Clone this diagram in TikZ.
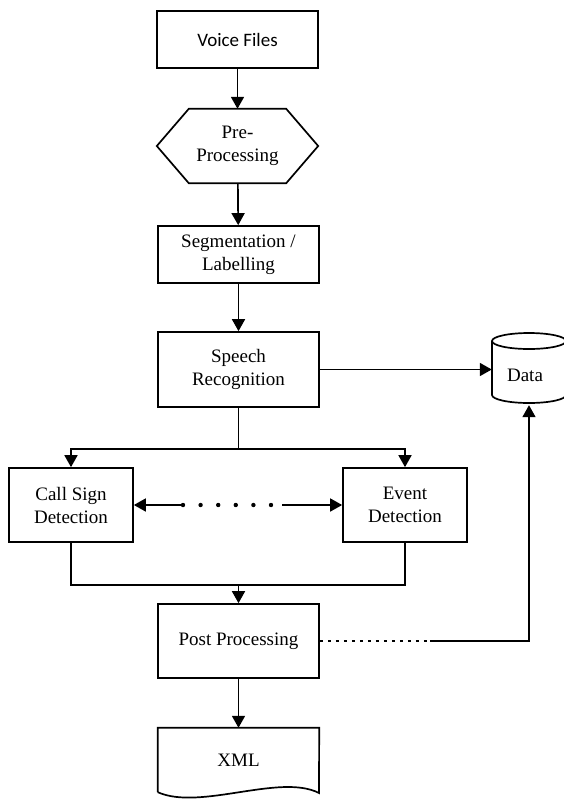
\documentclass[tikz,border=0pt]{standalone}
\usepackage{fontspec}
\setmainfont{Liberation Serif}
\newfontfamily\calibrifont{Carlito}
\usetikzlibrary{arrows.meta}
\begin{document}
\begin{tikzpicture}[x=1pt,y=-1pt,
  line/.style={line width=1.7pt, draw=black},
  arr/.style={line, -{Triangle[length=12pt,width=13pt]}},
  txt/.style={inner sep=0pt, align=center, font=\fontsize{19}{23}\selectfont},
  box/.style={txt, line, minimum width=161pt},
  sidebox/.style={txt, line, minimum width=124pt, minimum height=74pt},
  plain/.style={txt},
  dotsA/.style={line width=4.4pt, line cap=round, dash pattern=on 0pt off 17.6pt},
  dotsB/.style={line width=2.8pt, dash pattern=on 2.8pt off 5.2pt}
]
\useasboundingbox (0,0) rectangle (564,801);

% nodes
\node[box, minimum height=57pt, font=\fontsize{19}{23}\calibrifont] (vf) at (237.5,39.5) {Voice Files};
\node[plain, minimum width=161pt, minimum height=74pt] (pre) at (237.5,146) {Pre-\\Processing};
\draw[line] (pre.west) -- ([xshift=32pt]pre.north west) -- ([xshift=-32pt]pre.north east)
  -- (pre.east) -- ([xshift=-32pt]pre.south east) -- ([xshift=32pt]pre.south west) -- cycle;
\node[box, minimum height=57pt] (seg) at (238.5,254.5) {Segmentation /\\Labelling};
\node[box, minimum height=75pt] (sr) at (238.5,369.5) {Speech\\Recognition};
\node[sidebox] (cs) at (71,505) {Call Sign\\Detection};
\node[sidebox] (ev) at (405,505) {Event\\Detection};
\node[box, minimum height=74pt] (pp) at (238.5,641) {Post Processing};
\node[plain, minimum width=161pt, minimum height=64pt] (xml) at (238.5,760) {XML};
\draw[line] (xml.south west) -- (xml.north west) -- (xml.north east) -- (319,793)
  .. controls (280,773) and (200,811) .. (xml.south west);

% data cylinder
\node[plain, minimum width=66pt, minimum height=60pt] (data) at (525,375) {Data};
\draw[line] (492,341) -- (492,395) arc[start angle=180,end angle=360,x radius=37pt,y radius=8pt] -- (566,341);
\draw[line] (529,341) ellipse[x radius=37pt,y radius=8pt];

% coordinates
\coordinate (split) at (238.5,449);
\coordinate (join) at (238.5,585);
\coordinate (d1) at (183,505);
\coordinate (d2) at (282,505);
\coordinate (pd) at (430,641);

% connectors
\draw[arr] (vf) -- (pre);
\draw[arr] (pre) -- (seg);
\draw[arr] (seg) -- (sr);
\draw[arr] (sr.east) -- (sr.east -| data.west);
\draw[line] (sr.south) -- (split);
\draw[arr] (split) -| (cs.north);
\draw[arr] (split) -| (ev.north);
\draw[arr] (d1) -- (cs.east);
\draw[arr] (d2) -- (ev.west);
\draw[dotsA] (d1) -- (d2);
\draw[line] (cs.south) |- (join) -| (ev.south);
\draw[arr] (join) -- (pp.north);
\draw[arr] (pp) -- (xml);
\draw[dotsB] (pp.east) -- (pd);
\draw[arr] (pd) -| ([xshift=4pt]data.south);
\end{tikzpicture}
\end{document}
